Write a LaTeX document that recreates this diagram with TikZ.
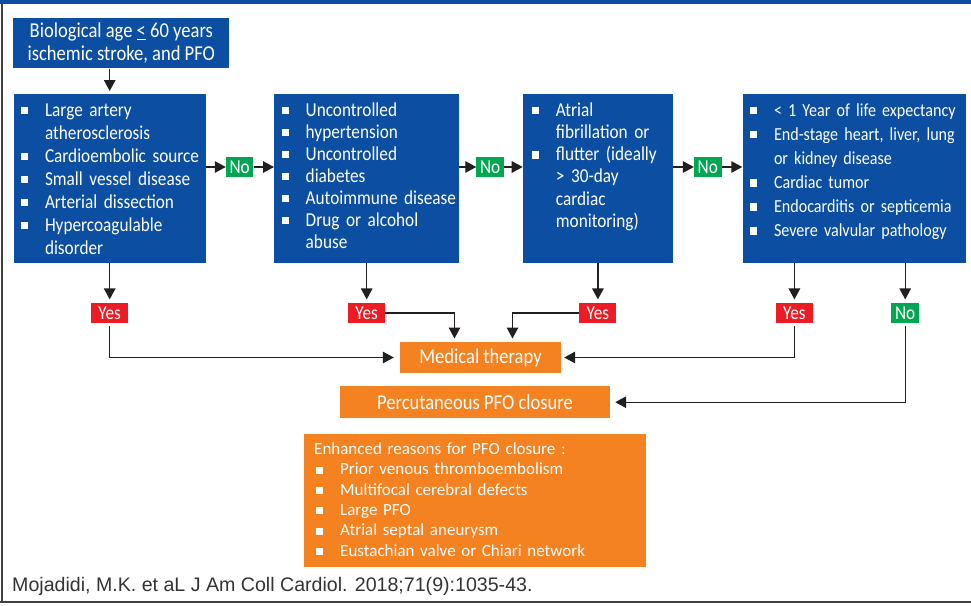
\documentclass[tikz,border=0pt]{standalone}
\usepackage{fontspec}
\setmainfont{Carlito}
\newfontfamily\condfont[FakeStretch=0.875]{Carlito}
\newfontfamily\citefont{Liberation Sans}
\usetikzlibrary{positioning,arrows.meta}

\definecolor{pfoblue}{RGB}{12,78,162}
\definecolor{pfogreen}{RGB}{0,166,81}
\definecolor{pfored}{RGB}{237,28,36}
\definecolor{pfoorange}{RGB}{245,130,32}
\definecolor{arrowgray}{RGB}{35,31,32}
\definecolor{citegray}{RGB}{51,51,51}
\definecolor{framegray}{RGB}{64,64,64}

\newcommand\bitem[1]{\makebox[24pt][l]{\rule[2pt]{7.4pt}{7.4pt}}\mbox{#1}}
\newcommand\bcont[1]{\hspace*{24pt}\mbox{#1}}
\newcommand\eitem[1]{\hspace*{2pt}\makebox[24pt][l]{\rule[1pt]{7pt}{7pt}}\mbox{#1}}

\begin{document}
\begin{tikzpicture} [
	x=1pt,y=-1pt,
	node distance=39pt,
	startbox/.style={
		rectangle,fill=pfoblue,text=white,align=center,
		minimum width=216pt,minimum height=50pt,inner sep=0pt,
		font=\condfont\fontsize{21.2}{22.7}\selectfont
	},
	riskbox/.style={
		rectangle,fill=pfoblue,text=white,anchor=north west,
		align=left,inner xsep=7.5pt,inner ysep=8pt,
		text height=14pt,text depth=139pt,
		font=\condfont\fontsize{19.7}{#1}\selectfont
	},
	riskbox/.default=23,
	yestag/.style={
		rectangle,fill=pfored,text=white,inner sep=0pt,
		minimum width=37pt,minimum height=20.4pt,
		font=\condfont\fontsize{19.7}{22}\selectfont
	},
	notag/.style={
		yestag,fill=pfogreen,minimum width=27.5pt,minimum height=20.6pt
	},
	orangebox/.style={
		rectangle,fill=pfoorange,text=white,inner sep=0pt,
		minimum height=31.6pt,
		font=\condfont\fontsize{21.2}{24}\selectfont
	},
	reasonbox/.style={
		rectangle,fill=pfoorange,text=white,anchor=north west,
		align=left,inner xsep=10pt,inner ysep=8pt,text width=321.7pt,
		text height=12pt,text depth=104.7pt,
		font=\fontsize{17}{20.4}\selectfont
	},
	cite/.style={
		anchor=base west,inner sep=0pt,text=citegray,
		font=\citefont\fontsize{19.6}{24}\selectfont
	},
	arr/.style={
		-{Triangle[length=11pt,width=11.5pt]},line width=1.4pt,draw=arrowgray
	}
]
\useasboundingbox (0,0) rectangle (971,605);
\fill [pfoblue] (0,0) rectangle (971,4);
\fill [framegray] (1,4) rectangle (3,603);
\fill [framegray] (0,601) rectangle (971,603);

\node [startbox]	(start) at (121.3,43.3)	{Biological age \underline{<} 60 years\\ischemic stroke, and PFO};
\node [riskbox,text width=177.4pt]	(riskA) at (13.3,94)	{\bitem{Large artery}\\\bcont{atherosclerosis}\\\bitem{Cardioembolic source}\\\bitem{Small vessel disease}\\\bitem{Arterial dissection}\\\bitem{Hypercoagulable}\\\bcont{disorder}};
\node [riskbox=22,text width=170pt]	(riskB) at (274,94)	{\bitem{Uncontrolled}\\\bitem{hypertension}\\\bitem{Uncontrolled}\\\bitem{diabetes}\\\bitem{Autoimmune disease}\\\bitem{Drug or alcohol}\\\bcont{abuse}};
\node [riskbox=22.2,inner xsep=9pt,text width=132pt]	(riskC) at (522.7,94)	{\bitem{Atrial}\\\bcont{fibrillation or}\\\bitem{flutter (ideally}\\\bcont{> 30-day}\\\bcont{cardiac}\\\bcont{monitoring)}};
\node [riskbox,font=\condfont\fontsize{18.4}{24.1}\selectfont,text width=208.4pt]	(riskD) at (742.3,94)	{\bitem{< 1 Year of life expectancy}\\\bitem{End-stage heart, liver, lung}\\\bcont{or kidney disease}\\\bitem{Cardiac tumor}\\\bitem{Endocarditis or septicemia}\\\bitem{Severe valvular pathology}};

\node [notag]	(noA) at (239.7,167)	{No};
\node [notag]	(noB) at (490.2,167)	{No};
\node [notag]	(noC) at (707.8,167)	{No};

\node [yestag]	(yesA)[below=of riskA]	{Yes};
\node [yestag]	(yesB)[below=of riskB]	{Yes};
\node [yestag]	(yesC)[below=of riskC]	{Yes};
\node [yestag]	(yesD)[below=of riskD,xshift=-59.8pt]	{Yes};
\node [notag]	(noD)[below=of riskD,xshift=51pt]	{No};

\node [orangebox,minimum width=161pt]	(medical) at (480.5,357.5)	{Medical therapy};
\node [orangebox,minimum width=270pt,minimum height=32.3pt]	(closure) at (475,402.2)	{Percutaneous PFO closure};
\node [reasonbox]	(reasons) at (304,434)	{Enhanced reasons for PFO closure :\\\eitem{Prior venous thromboembolism}\\\eitem{Multifocal cerebral defects}\\\eitem{Large PFO}\\\eitem{Atrial septal aneurysm}\\\eitem{Eustachian valve or Chiari network}};
\node [cite]	(source) at (12,591.7)	{Mojadidi, M.K. et aL J Am Coll Cardiol. 2018;71(9):1035-43.};

\draw [arr,shorten >=3pt] (riskA.north |- start.south) -- (riskA.north);
\draw [arr] (riskA.east |- noA) -- (noA);
\draw [arr] (noA) -- (riskB.west |- noA);
\draw [arr] (riskB.east |- noB) -- (noB);
\draw [arr] (noB) -- (riskC.west |- noB);
\draw [arr] (riskC.east |- noC) -- (noC);
\draw [arr] (noC) -- (riskD.west |- noC);

\draw [arr,shorten >=3pt] (yesA |- riskA.south) -- (yesA);
\draw [arr,shorten >=3pt] (yesB |- riskB.south) -- (yesB);
\draw [arr,shorten >=3pt] (yesC |- riskC.south) -- (yesC);
\draw [arr,shorten >=3pt] (yesD |- riskD.south) -- (yesD);
\draw [arr,shorten >=3pt] (noD |- riskD.south) -- (noD);

\draw [arr,shorten <=3pt,shorten >=6pt] (yesA) |- (medical);
\draw [arr,shorten >=3pt] (yesB) -| ([xshift=-26pt]medical.north);
\draw [arr,shorten >=3pt] (yesC) -| ([xshift=32pt]medical.north);
\draw [arr,shorten <=3pt,shorten >=3pt] (yesD) |- (medical);
\draw [arr,shorten <=3pt,shorten >=5pt] (noD) |- (closure);
\end{tikzpicture}
\end{document}
